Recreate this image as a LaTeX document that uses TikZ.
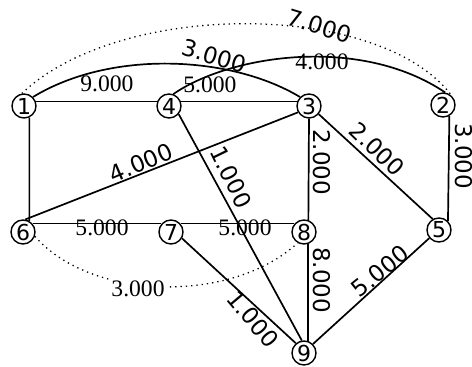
\documentclass[tikz,border=0pt]{standalone}
\usepackage{fontspec}
\setmainfont{Liberation Serif}
\newfontfamily\dejavu{DejaVu Sans}
\tikzset{
  vtx/.style={circle,draw,line width=0.7pt,minimum size=12pt,inner sep=0pt,font=\dejavu\fontsize{11}{12}\selectfont},
  wts/.style={font=\dejavu\fontsize{11.5}{12}\selectfont,inner sep=0pt},
  wtr/.style={font=\fontsize{11.8}{12}\selectfont,inner sep=0pt},
  thinedge/.style={line width=0.55pt}
}
\begin{document}
\begin{tikzpicture}[x=0.5pt,y=-0.5pt,line width=0.85pt]
\useasboundingbox (0,0) rectangle (472,367);
% vertices
\node[vtx](n1) at (24,106){1};
\node[vtx](n4) at (169,106){4};
\node[vtx](n3) at (309,106){3};
\node[vtx](n2) at (443,105){2};
\node[vtx](n6) at (23,232){6};
\node[vtx](n7) at (171,232){7};
\node[vtx](n8) at (304,232){8};
\node[vtx](n5) at (439,230){5};
\node[vtx](n9) at (304,353){9};
% straight edges
\draw (n1.20) -- (n4.160);
\draw[thinedge] (n4.20) -- (n3.160);
\draw (n1.-65) -- (n6.60);
\draw (n2.-60) -- (n5.45);
\draw (n3.-150) -- (n6.80);
\draw (n3.south) -- (n8.70);
\draw (n3.-40) -- (n5.120);
\draw (n4.-40) -- (n9.100);
\draw[thinedge] (n6.40) -- (n7.140);
\draw[thinedge] (n7.40) -- (n8.140);
\draw (n7.-30) -- (n9.130);
\draw (n8.-70) -- (n9.70);
\draw (n9.45) -- (n5.-140);
% curved edges
\draw (n1.north east) .. controls (110,50) and (230,55) .. (n3.north west);
\draw (n4.70) .. controls (230,55) and (360,35) .. (n2.80);
\draw[dotted,line width=0.65pt] (n1.100) .. controls (120,0) and (380,0) .. (n2.north east);
\draw[dotted,line width=0.65pt] (n6.-20) .. controls (90,300) and (230,305) .. (n8.-120);
% weights
\node[wtr](w14) at (107,84){9.000};
\node[wtr](w43) at (210,85){5.000};
\node[wts,rotate=-16](w13) at (214,56){3.000};
\node[wtr](w42) at (322,62){4.000};
\node[wts,rotate=-17](w12) at (319,26){7.000};
\node[wts,rotate=-90](w25) at (464,156){3.000};
\node[wts,rotate=-90](w38) at (322,162){2.000};
\node[wts,rotate=-44](w35) at (377,149){2.000};
\node[wts,rotate=23](w36) at (141,163){4.000};
\node[wts,rotate=-64](w49) at (231,177){1.000};
\node[wtr](w67) at (102,228){5.000};
\node[wtr](w78) at (245,228){5.000};
\node[wts,rotate=-50](w79) at (253,319){1.000};
\node[wts,rotate=-90](w89) at (322,280){8.000};
\node[wts,rotate=39](w95) at (380,271){5.000};
\node[wtr,fill=white,inner sep=1pt](w68) at (138,289){3.000};
\end{tikzpicture}
\end{document}
